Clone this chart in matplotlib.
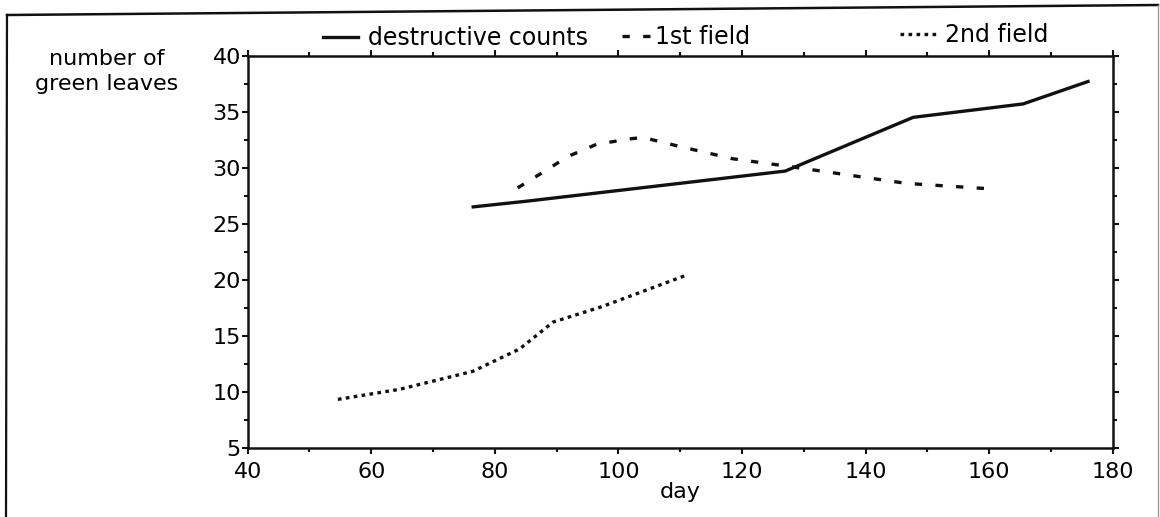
import matplotlib.pyplot as plt
from matplotlib.lines import Line2D
from matplotlib.ticker import MultipleLocator

# ------------------------
# Datos (día, número de hojas verdes)
# ------------------------
dias_destructivo = [76.5, 85.0, 127.0, 147.7, 165.5, 176.0]
hojas_destructivo = [26.5, 27.0, 29.7, 34.5, 35.7, 37.7]

dias_campo1 = [83.7, 88.1, 91.8, 96.5, 102.2, 104.0, 109.9, 118.5, 127.8, 146.6, 160.5]
hojas_campo1 = [28.2, 29.7, 31.0, 32.1, 32.6, 32.7, 31.9, 30.8, 30.1, 28.6, 28.1]

dias_campo2 = [54.6, 64.6, 76.4, 84.0, 89.4, 97.4, 111.0]
hojas_campo2 = [9.3, 10.2, 11.8, 13.8, 16.2, 17.6, 20.4]

etiquetas = ["destructive counts", "1st field", "2nd field"]

W, H = 1160, 517
NEGRO = "#111111"

plt.rcParams["font.family"] = "DejaVu Sans"

fig = plt.figure(figsize=(W / 100, H / 100), dpi=100)
ax = fig.add_axes([247.7 / W, 1 - 447.5 / H, 865 / W, 391.7 / H])

lw = 2.4
l1, = ax.plot(dias_destructivo, hojas_destructivo, color=NEGRO, lw=lw,
              solid_joinstyle="round")
l2, = ax.plot(dias_campo1, hojas_campo1, color=NEGRO, lw=lw,
              dashes=(2.2, 4.0))
l3, = ax.plot(dias_campo2, hojas_campo2, color=NEGRO, lw=lw,
              dashes=(1.1, 1.3))

ax.set_xlim(40, 180)
ax.set_ylim(5, 40)
ax.xaxis.set_major_locator(MultipleLocator(20))
ax.xaxis.set_minor_locator(MultipleLocator(10))
ax.yaxis.set_major_locator(MultipleLocator(5))
ax.yaxis.set_minor_locator(MultipleLocator(2.5))

for s in ax.spines.values():
    s.set_linewidth(1.8)
    s.set_color(NEGRO)

ax.tick_params(which="both", direction="out", top=True, right=True,
               color=NEGRO, width=1.5)
ax.tick_params(which="major", length=4.3)
ax.tick_params(which="minor", length=2.6)
ax.tick_params(axis="x", labelsize=16, pad=6.5)
ax.tick_params(axis="y", labelsize=16, pad=0.5)

ax.set_xlabel("day", fontsize=16, labelpad=0)

fig.text(107 / W, 1 - 49 / H, "number of\ngreen leaves", fontsize=16,
         ha="center", va="top", linespacing=1.3)

# Leyendas separadas, cada una en su lugar sobre el eje superior
def leyenda(handle, texto, x, y, largo, sep):
    lg = fig.legend([handle], [texto], loc="center left",
                    bbox_to_anchor=(x / W, 1 - y / H), frameon=False,
                    fontsize=17, borderpad=0, borderaxespad=0,
                    handlelength=largo, handletextpad=sep)
    return lg

leyenda(l1, etiquetas[0], 323, 38, 1.48, 0.42)
leyenda(l2, etiquetas[1], 622, 37, 1.19, 0.22)
leyenda(l3, etiquetas[2], 900, 35, 1.57, 0.34)

# Marco exterior de la figura
def px(x, y):
    return x / W, 1 - y / H

for (xa, ya), (xb, yb), c, w in [
    ((7, 15), (1158, 5), NEGRO, 1.8),
    ((7, 15), (6, 517), NEGRO, 1.6),
    ((1158, 5), (1158, 517), "#9a9a9a", 1.0),
]:
    (x0, y0), (x1, y1) = px(xa, ya), px(xb, yb)
    fig.add_artist(Line2D([x0, x1], [y0, y1], transform=fig.transFigure,
                          color=c, lw=w))

fig.savefig("out.png", dpi=100)
